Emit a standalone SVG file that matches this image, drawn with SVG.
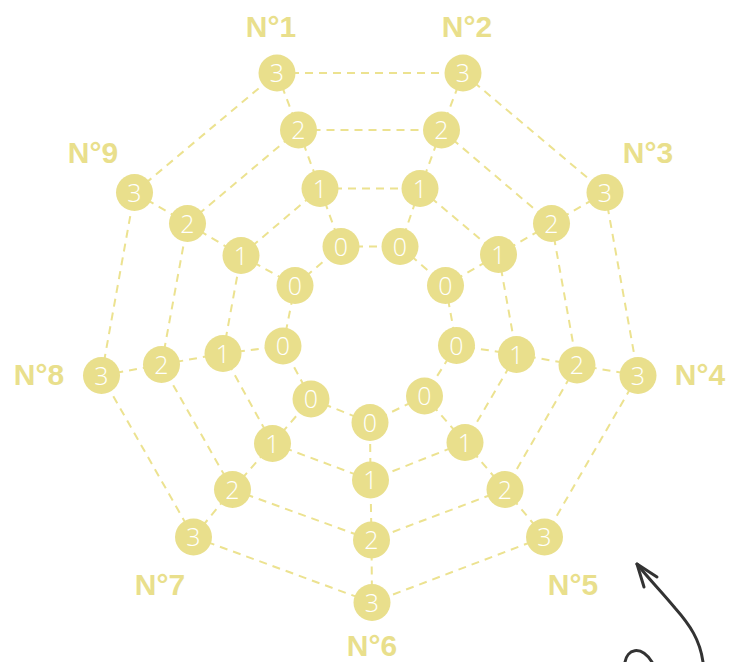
<svg xmlns="http://www.w3.org/2000/svg" width="731" height="662" viewBox="0 0 731 662">
<style>
.c line{stroke:#ece290;stroke-width:2;stroke-dasharray:8 6;fill:none}
.n circle{fill:#e9df8c}
.n text{fill:#ffffff;font-family:"Open Sans","Lato","Liberation Sans",sans-serif;font-weight:300;font-size:25px;text-anchor:middle}
.lbl{fill:#e9df8c;font-family:"Liberation Sans",Arial,sans-serif;font-weight:bold;font-size:30px;text-anchor:middle}
.arrow{fill:none;stroke:#333333;stroke-width:3;stroke-linecap:round;stroke-linejoin:round}
</style>
<rect width="731" height="662" fill="#ffffff"/>
<g id="connectors" class="c">
<line x1="277" y1="73" x2="298.5" y2="130"/><line x1="298.5" y1="130" x2="320" y2="188.5"/><line x1="320" y1="188.5" x2="341" y2="246.5"/>
<line x1="463" y1="73" x2="441.5" y2="130"/><line x1="441.5" y1="130" x2="420" y2="188.5"/><line x1="420" y1="188.5" x2="400" y2="246.5"/>
<line x1="605" y1="192.5" x2="551.5" y2="223.5"/><line x1="551.5" y1="223.5" x2="498.5" y2="254.5"/><line x1="498.5" y1="254.5" x2="445.5" y2="285.5"/>
<line x1="638" y1="375.5" x2="577" y2="365"/><line x1="577" y1="365" x2="516.5" y2="354.5"/><line x1="516.5" y1="354.5" x2="456.5" y2="345.5"/>
<line x1="544.5" y1="537" x2="505" y2="489.5"/><line x1="505" y1="489.5" x2="465" y2="442.5"/><line x1="465" y1="442.5" x2="424.5" y2="396"/>
<line x1="372" y1="602.5" x2="371.5" y2="540"/><line x1="371.5" y1="540" x2="370.5" y2="480"/><line x1="370.5" y1="480" x2="370" y2="422.5"/>
<line x1="193.5" y1="537" x2="232.5" y2="489.5"/><line x1="232.5" y1="489.5" x2="272.5" y2="443.5"/><line x1="272.5" y1="443.5" x2="311" y2="399"/>
<line x1="101.5" y1="375.5" x2="161.5" y2="364.5"/><line x1="161.5" y1="364.5" x2="223" y2="353.5"/><line x1="223" y1="353.5" x2="283" y2="346"/>
<line x1="134.5" y1="192.5" x2="187.5" y2="223.5"/><line x1="187.5" y1="223.5" x2="241" y2="255.5"/><line x1="241" y1="255.5" x2="295" y2="285.5"/>
<line x1="277" y1="73" x2="463" y2="73"/><line x1="463" y1="73" x2="605" y2="192.5"/><line x1="605" y1="192.5" x2="638" y2="375.5"/><line x1="638" y1="375.5" x2="544.5" y2="537"/><line x1="544.5" y1="537" x2="372" y2="602.5"/><line x1="372" y1="602.5" x2="193.5" y2="537"/><line x1="193.5" y1="537" x2="101.5" y2="375.5"/><line x1="101.5" y1="375.5" x2="134.5" y2="192.5"/><line x1="134.5" y1="192.5" x2="277" y2="73"/>
<line x1="298.5" y1="130" x2="441.5" y2="130"/><line x1="441.5" y1="130" x2="551.5" y2="223.5"/><line x1="551.5" y1="223.5" x2="577" y2="365"/><line x1="577" y1="365" x2="505" y2="489.5"/><line x1="505" y1="489.5" x2="371.5" y2="540"/><line x1="371.5" y1="540" x2="232.5" y2="489.5"/><line x1="232.5" y1="489.5" x2="161.5" y2="364.5"/><line x1="161.5" y1="364.5" x2="187.5" y2="223.5"/><line x1="187.5" y1="223.5" x2="298.5" y2="130"/>
<line x1="320" y1="188.5" x2="420" y2="188.5"/><line x1="420" y1="188.5" x2="498.5" y2="254.5"/><line x1="498.5" y1="254.5" x2="516.5" y2="354.5"/><line x1="516.5" y1="354.5" x2="465" y2="442.5"/><line x1="465" y1="442.5" x2="370.5" y2="480"/><line x1="370.5" y1="480" x2="272.5" y2="443.5"/><line x1="272.5" y1="443.5" x2="223" y2="353.5"/><line x1="223" y1="353.5" x2="241" y2="255.5"/><line x1="241" y1="255.5" x2="320" y2="188.5"/>
<line x1="341" y1="246.5" x2="400" y2="246.5"/><line x1="400" y1="246.5" x2="445.5" y2="285.5"/><line x1="445.5" y1="285.5" x2="456.5" y2="345.5"/><line x1="456.5" y1="345.5" x2="424.5" y2="396"/><line x1="424.5" y1="396" x2="370" y2="422.5"/><line x1="370" y1="422.5" x2="311" y2="399"/><line x1="311" y1="399" x2="283" y2="346"/><line x1="283" y1="346" x2="295" y2="285.5"/><line x1="295" y1="285.5" x2="341" y2="246.5"/>
</g>
<g class="n">
<g id="n1-3"><circle cx="277" cy="73" r="18.5"/><text x="277" y="82">3</text></g>
<g id="n1-2"><circle cx="298.5" cy="130" r="18.5"/><text x="298.5" y="139">2</text></g>
<g id="n1-1"><circle cx="320" cy="188.5" r="18.5"/><text x="320" y="197.5">1</text></g>
<g id="n1-0"><circle cx="341" cy="246.5" r="18.5"/><text x="341" y="255.5">0</text></g>
<g id="n2-3"><circle cx="463" cy="73" r="18.5"/><text x="463" y="82">3</text></g>
<g id="n2-2"><circle cx="441.5" cy="130" r="18.5"/><text x="441.5" y="139">2</text></g>
<g id="n2-1"><circle cx="420" cy="188.5" r="18.5"/><text x="420" y="197.5">1</text></g>
<g id="n2-0"><circle cx="400" cy="246.5" r="18.5"/><text x="400" y="255.5">0</text></g>
<g id="n3-3"><circle cx="605" cy="192.5" r="18.5"/><text x="605" y="201.5">3</text></g>
<g id="n3-2"><circle cx="551.5" cy="223.5" r="18.5"/><text x="551.5" y="232.5">2</text></g>
<g id="n3-1"><circle cx="498.5" cy="254.5" r="18.5"/><text x="498.5" y="263.5">1</text></g>
<g id="n3-0"><circle cx="445.5" cy="285.5" r="18.5"/><text x="445.5" y="294.5">0</text></g>
<g id="n4-3"><circle cx="638" cy="375.5" r="18.5"/><text x="638" y="384.5">3</text></g>
<g id="n4-2"><circle cx="577" cy="365" r="18.5"/><text x="577" y="374">2</text></g>
<g id="n4-1"><circle cx="516.5" cy="354.5" r="18.5"/><text x="516.5" y="363.5">1</text></g>
<g id="n4-0"><circle cx="456.5" cy="345.5" r="18.5"/><text x="456.5" y="354.5">0</text></g>
<g id="n5-3"><circle cx="544.5" cy="537" r="18.5"/><text x="544.5" y="546">3</text></g>
<g id="n5-2"><circle cx="505" cy="489.5" r="18.5"/><text x="505" y="498.5">2</text></g>
<g id="n5-1"><circle cx="465" cy="442.5" r="18.5"/><text x="465" y="451.5">1</text></g>
<g id="n5-0"><circle cx="424.5" cy="396" r="18.5"/><text x="424.5" y="405">0</text></g>
<g id="n6-3"><circle cx="372" cy="602.5" r="18.5"/><text x="372" y="611.5">3</text></g>
<g id="n6-2"><circle cx="371.5" cy="540" r="18.5"/><text x="371.5" y="549">2</text></g>
<g id="n6-1"><circle cx="370.5" cy="480" r="18.5"/><text x="370.5" y="489">1</text></g>
<g id="n6-0"><circle cx="370" cy="422.5" r="18.5"/><text x="370" y="431.5">0</text></g>
<g id="n7-3"><circle cx="193.5" cy="537" r="18.5"/><text x="193.5" y="546">3</text></g>
<g id="n7-2"><circle cx="232.5" cy="489.5" r="18.5"/><text x="232.5" y="498.5">2</text></g>
<g id="n7-1"><circle cx="272.5" cy="443.5" r="18.5"/><text x="272.5" y="452.5">1</text></g>
<g id="n7-0"><circle cx="311" cy="399" r="18.5"/><text x="311" y="408">0</text></g>
<g id="n8-3"><circle cx="101.5" cy="375.5" r="18.5"/><text x="101.5" y="384.5">3</text></g>
<g id="n8-2"><circle cx="161.5" cy="364.5" r="18.5"/><text x="161.5" y="373.5">2</text></g>
<g id="n8-1"><circle cx="223" cy="353.5" r="18.5"/><text x="223" y="362.5">1</text></g>
<g id="n8-0"><circle cx="283" cy="346" r="18.5"/><text x="283" y="355">0</text></g>
<g id="n9-3"><circle cx="134.5" cy="192.5" r="18.5"/><text x="134.5" y="201.5">3</text></g>
<g id="n9-2"><circle cx="187.5" cy="223.5" r="18.5"/><text x="187.5" y="232.5">2</text></g>
<g id="n9-1"><circle cx="241" cy="255.5" r="18.5"/><text x="241" y="264.5">1</text></g>
<g id="n9-0"><circle cx="295" cy="285.5" r="18.5"/><text x="295" y="294.5">0</text></g>
</g>
<g id="labels">
<text class="lbl" x="271" y="37">N°1</text>
<text class="lbl" x="467" y="37">N°2</text>
<text class="lbl" x="648" y="163">N°3</text>
<text class="lbl" x="700" y="385">N°4</text>
<text class="lbl" x="573" y="595">N°5</text>
<text class="lbl" x="372" y="656">N°6</text>
<text class="lbl" x="160" y="595">N°7</text>
<text class="lbl" x="39" y="385">N°8</text>
<text class="lbl" x="93" y="163">N°9</text>
</g>
<g id="arrow" class="arrow">
<path d="M703,662 C700,640 690,625 675,608 C660,590 648,578 637,564"/>
<path d="M657,577 L637,564 L644,587"/>
<path d="M625,662 C627,650 640,644 652,662"/>
</g>
</svg>
